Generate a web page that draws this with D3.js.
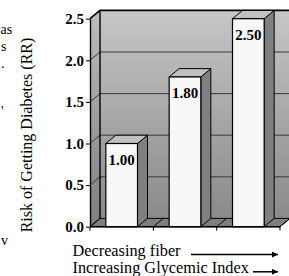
<!DOCTYPE html>
<html>
<head>
<meta charset="utf-8">
<script src="https://d3js.org/d3.v7.min.js"></script>
<style>
  body { margin: 0; background: #fff; }
  text { font-family: "Liberation Serif", "Times New Roman", serif; }
</style>
</head>
<body>
<div id="vis"></div>
<script>
// chart data
let categories = ["low", "middle", "high"]
let riskValues = [1.00, 1.80, 2.50]
let valueLabels = ["1.00", "1.80", "2.50"]
let yTicks = [0, 0.5, 1.0, 1.5, 2.0, 2.5]
let yTitle = "Risk of Getting Diabetes (RR)"
let xNotes = ["Decreasing fiber", "Increasing Glycemic Index"]
// clipped bits of text from the neighbouring column
let edgeBits = ["as", "s", ".", "'", "v"]

let svg = d3.select("#vis")
    .append("svg")
    .attr("width", 289)
    .attr("height", 276)

// 3d depth offset
let dx = 10, dy = -8.3

let x = d3.scaleBand()
    .domain(categories)
    .range([90, 280])
    .paddingInner(0.5)
    .paddingOuter(0.25)

let y = d3.scaleLinear()
    .domain([0, 2.5])
    .range([226.7, 18.7])

let defs = svg.append("defs")
let grad = defs.append("linearGradient")
    .attr("id", "wall")
    .attr("x1", 0).attr("y1", 0).attr("x2", 0).attr("y2", 1)
grad.append("stop").attr("offset", "0%").attr("stop-color", "#c6c6c6")
grad.append("stop").attr("offset", "100%").attr("stop-color", "#8a8a8a")
let grad2 = defs.append("linearGradient")
    .attr("id", "side")
    .attr("x1", 0).attr("y1", 0).attr("x2", 0).attr("y2", 1)
grad2.append("stop").attr("offset", "0%").attr("stop-color", "#bdbdbd")
grad2.append("stop").attr("offset", "100%").attr("stop-color", "#7e7e7e")

let x0 = x.range()[0], x1 = x.range()[1]
let line = d3.line()

// back wall
svg.append("path")
    .attr("d", line([[x0 + dx, y(2.5) + dy], [x1 + dx, y(2.5) + dy], [x1 + dx, y(0) + dy], [x0 + dx, y(0) + dy]]) + "Z")
    .attr("fill", "url(#wall)")

// left wall
svg.append("path")
    .attr("d", line([[x0, y(2.5)], [x0 + dx, y(2.5) + dy], [x0 + dx, y(0) + dy], [x0, y(0)]]) + "Z")
    .attr("fill", "url(#side)")

// floor
svg.append("path")
    .attr("d", line([[x0, y(0)], [x1, y(0)], [x1 + dx, y(0) + dy], [x0 + dx, y(0) + dy]]) + "Z")
    .attr("fill", "#7f7f7f")
    .attr("stroke", "#000")
    .attr("stroke-width", 1)

// gridlines
yTicks.filter(d => d > 0 && d < 2.5).forEach(d => {
    svg.append("line")
        .attr("x1", x0 + dx).attr("x2", x1 + dx)
        .attr("y1", y(d) + dy).attr("y2", y(d) + dy)
        .attr("stroke", "#3a3a3a")
    svg.append("line")
        .attr("x1", x0).attr("x2", x0 + dx)
        .attr("y1", y(d)).attr("y2", y(d) + dy)
        .attr("stroke", "#3a3a3a")
})

// wall outlines
svg.append("path")
    .attr("d", line([[x0, y(2.5)], [x0 + dx, y(2.5) + dy], [x1 + dx, y(2.5) + dy]]))
    .attr("fill", "none")
    .attr("stroke", "#000")
    .attr("stroke-width", 1.6)
svg.append("line")
    .attr("x1", x0 + dx).attr("x2", x0 + dx)
    .attr("y1", y(2.5) + dy).attr("y2", y(0) + dy)
    .attr("stroke", "#000")
    .attr("stroke-width", 1.4)

// floor dividers under the category boundaries
let gap = (x.step() - x.bandwidth()) / 2
let bounds = categories.map(c => x(c) - gap).concat([x1])
bounds.forEach(b => {
    svg.append("line")
        .attr("x1", b).attr("x2", b + dx)
        .attr("y1", y(0)).attr("y2", y(0) + dy)
        .attr("stroke", "#000")
    svg.append("line")
        .attr("x1", b).attr("x2", b)
        .attr("y1", y(0)).attr("y2", y(0) + 4)
        .attr("stroke", "#000")
})

// bars
let bars = svg.selectAll(".bar")
    .data(riskValues)
    .enter().append("g")
    .attr("class", "bar")

bars.append("path")
    .attr("d", (d, i) => {
        let bx = x(categories[i]) + x.bandwidth()
        return line([[bx, y(d)], [bx + dx, y(d) + dy], [bx + dx, y(0) + dy], [bx, y(0)]]) + "Z"
    })
    .attr("fill", "#808080")
    .attr("stroke", "#000")

bars.append("path")
    .attr("d", (d, i) => {
        let bx = x(categories[i])
        let bw = x.bandwidth()
        return line([[bx, y(d)], [bx + dx, y(d) + dy], [bx + bw + dx, y(d) + dy], [bx + bw, y(d)]]) + "Z"
    })
    .attr("fill", "#c0c0c0")
    .attr("stroke", "#000")

bars.append("rect")
    .attr("x", (d, i) => x(categories[i]))
    .attr("y", d => y(d))
    .attr("width", x.bandwidth())
    .attr("height", d => y(0) - y(d))
    .attr("fill", "#f8f8f8")
    .attr("stroke", "#000")
    .attr("stroke-width", 1.2)

bars.append("text")
    .attr("x", (d, i) => x(categories[i]) + x.bandwidth() / 2)
    .attr("y", d => y(d) + 21)
    .attr("text-anchor", "middle")
    .attr("font-size", 15)
    .attr("font-weight", "bold")
    .text((d, i) => valueLabels[i])

// y axis
let yAxis = d3.axisLeft(y)
    .tickValues(yTicks)
    .tickFormat(d3.format(".1f"))
    .tickSize(4)
    .tickSizeOuter(0)

let ax = svg.append("g")
    .attr("transform", "translate(" + x0 + ",0)")
    .call(yAxis)
ax.select(".domain").attr("stroke", "#000").attr("stroke-width", 1.4)
ax.selectAll("text")
    .attr("font-family", "Liberation Serif, Times New Roman, serif")
    .attr("font-size", 15)
    .attr("font-weight", "bold")
    .attr("fill", "#000")
    .attr("x", -6)

// front floor edge
svg.append("line")
    .attr("x1", x0).attr("x2", x1)
    .attr("y1", y(0)).attr("y2", y(0))
    .attr("stroke", "#000")
    .attr("stroke-width", 1.4)

// axis title
svg.append("text")
    .attr("transform", "translate(32,135) rotate(-90)")
    .attr("text-anchor", "middle")
    .attr("font-size", 16)
    .text(yTitle)

// notes under the chart with arrows
defs.append("marker")
    .attr("id", "arrow")
    .attr("viewBox", "0 0 10 10")
    .attr("refX", 10).attr("refY", 5)
    .attr("markerWidth", 5).attr("markerHeight", 4)
    .attr("markerUnits", "strokeWidth")
    .attr("orient", "auto")
    .append("path")
    .attr("d", "M0,0L10,5L0,10Z")
    .attr("fill", "#000")

let noteY = [255.5, 272.8]
let arrowStart = [191, 253]
xNotes.forEach((t, i) => {
    svg.append("text")
        .attr("x", 72.5)
        .attr("y", noteY[i])
        .attr("font-size", 16.3)
        .text(t)
    svg.append("line")
        .attr("x1", arrowStart[i]).attr("x2", 278)
        .attr("y1", noteY[i] - 1).attr("y2", noteY[i] - 1)
        .attr("stroke", "#000")
        .attr("stroke-width", 1.5)
        .attr("marker-end", "url(#arrow)")
})

// bits of text at the left edge
let bitX = [0.5, 1, 1, 1, 1]
let bitY = [34, 51, 68, 116, 245]
edgeBits.forEach((t, i) => {
    svg.append("text")
        .attr("x", bitX[i])
        .attr("y", bitY[i])
        .attr("font-size", 14)
        .text(t)
})
</script>
</body>
</html>
